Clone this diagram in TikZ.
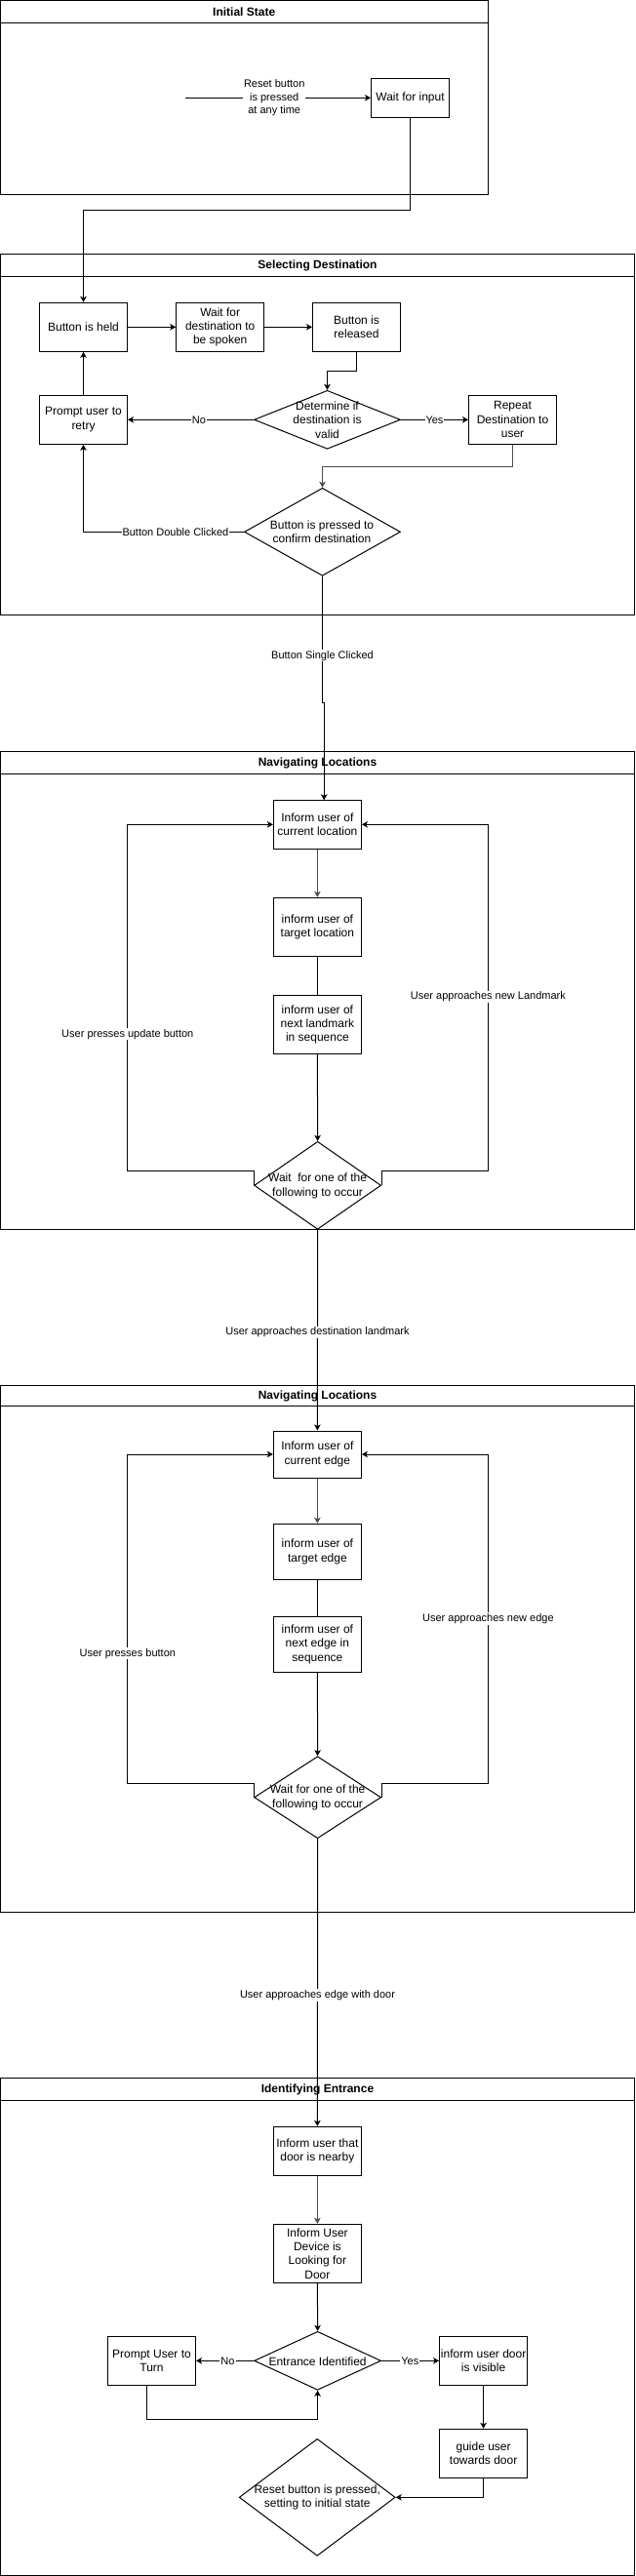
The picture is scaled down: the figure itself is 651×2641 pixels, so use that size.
\documentclass[tikz,border=0pt]{standalone}
\usepackage{fontspec}
\setmainfont{Liberation Sans}
\usetikzlibrary{arrows.meta,shapes.geometric}
\begin{document}
\begin{tikzpicture}[x=1pt,y=-1pt,line width=1pt,
  box/.style={draw,rectangle,minimum width=90pt,minimum height=50pt,align=center,inner sep=0pt,font=\fontsize{12pt}{14.4pt}\selectfont},
  dec/.style={draw,diamond,inner sep=0pt},
  dtext/.style={align=center,inner sep=0pt,font=\fontsize{12pt}{14.4pt}\selectfont},
  elab/.style={fill=white,align=center,inner sep=1pt,font=\fontsize{11pt}{13.2pt}\selectfont},
  pooltitle/.style={font=\bfseries\fontsize{12pt}{14.4pt}\selectfont,inner sep=0pt},
  arr/.style={-{Stealth[length=6pt,width=6.5pt,inset=1.5pt]}},
  soft/.style={draw=black!70}]
\useasboundingbox (0,0) rectangle (651,2641);
% ---------- pools ----------
\draw (0.5,0.5) rectangle (500.4,200);
\draw (0.5,23.3) -- (500.4,23.3);
\node[pooltitle] (t1) at (250.2,12) {Initial State};
\draw (0.5,260.3) rectangle (650.5,630.3);
\draw (0.5,283.3) -- (650.5,283.3);
\node[pooltitle] (t2) at (325.5,272) {Selecting Destination};
\draw (0.5,770.3) rectangle (650.5,1260.3);
\draw (0.5,793.3) -- (650.5,793.3);
\node[pooltitle] (t3) at (325.5,782) {Navigating Locations};
\draw (0.5,1420) rectangle (650.5,1960);
\draw (0.5,1441.7) -- (650.5,1441.7);
\node[pooltitle] (t4) at (325.5,1431) {Navigating Locations};
\draw (0.5,2130.3) rectangle (650.5,2640.5);
\draw (0.5,2153.3) -- (650.5,2153.3);
\node[pooltitle] (t5) at (325.5,2142) {Identifying Entrance};
% ---------- initial state ----------
\node[box,minimum width=80pt,minimum height=40pt] (wait) at (420.5,100.3) {Wait for input};
\coordinate (rs) at (190,100.3);
\draw[arr] (rs) -- node[elab,pos=0.48] (rsl) {Reset button\\is pressed\\at any time} (wait.west);
% ---------- selecting destination ----------
\node[box] (held) at (85.5,335.3) {Button is held};
\node[box] (waitdest) at (225.7,335.3) {Wait for\\destination to\\be spoken};
\node[box] (released) at (365.5,335.3) {Button is\\released};
\node[dec,minimum width=150pt,minimum height=60pt] (d1) at (335.5,430.3) {};
\node[dtext] (d1t) at (335.5,430.7) {Determine if\\destination is\\valid};
\node[box] (retry) at (85.5,430.3) {Prompt user to\\retry};
\node[box] (repeat) at (525.5,430.3) {Repeat\\Destination to\\user};
\node[dec,minimum width=160pt,minimum height=90pt] (d2) at (330.5,545.3) {};
\node[dtext] (d2t) at (330,545.5) {Button is pressed to\\confirm destination};
\draw[arr] (wait.south) -- ++(0,95) -| (held.north);
\draw[arr] (held.east) -- (waitdest.west);
\draw[arr] (waitdest.east) -- (released.west);
\draw[arr] (released.south) -- ++(0,20) -| (d1.north);
\draw[arr] (d1.west) -- node[elab,pos=0.435] (nol) {No} (retry.east);
\draw[arr] (d1.east) -- node[elab,pos=0.5] (yesl) {Yes} (repeat.west);
\draw[arr,soft] (repeat.south) -- ++(0,22.7) -| (d2.north);
\draw[arr] (d2.west) -| node[elab,pos=0.213] (dcl) {Button Double Clicked} (retry.south);
\draw[arr] (retry.north) -- (held.south);
% ---------- navigating locations ----------
\node[box] (cur1) at (325.4,845.3) {Inform user of\\current location};
\node[box,minimum height=60pt] (tgt1) at (325.4,950.3) {inform user of\\target location};
\node[box,minimum height=60pt] (next1) at (325.4,1050.3) {inform user of\\next landmark\\in sequence};
\node[dec,minimum width=130pt,minimum height=90pt] (w1) at (325.6,1215.3) {};
\node[dtext] (w1t) at (325.6,1215.7) {Wait\ \ for one of the\\following to occur};
\draw[arr] (d2.south) -- node[elab,pos=0.63] (scl) {Button Single Clicked} (330.5,720) -- (332.2,720) -- (332.2,820.3);
\draw[arr,soft] (cur1.south) -- (tgt1.north);
\draw (tgt1.south) -- (next1.north);
\draw[arr] (next1.south) -- (w1.north);
\draw[arr] (w1.west) -- ++(0,-15.3) -- (130.8,1200) -- node[elab,pos=0.394] (upl) {User presses update button} (130.8,845.3) -- (cur1.west);
\draw[arr] (w1.east) -- ++(0,-15.3) -- (500.4,1200) -- node[elab,pos=0.502] (nll) {User approaches new Landmark} (500.4,845.3) -- (cur1.east);
% ---------- navigating edges ----------
\node[box,minimum height=48pt] (cur2) at (325.4,1491) {Inform user of\\current edge};
\node[box,minimum height=57pt] (tgt2) at (325.4,1590.8) {inform user of\\target edge};
\node[box,minimum height=57pt] (next2) at (325.4,1685.8) {inform user of\\next edge in\\sequence};
\node[dec,minimum width=130pt,minimum height=84pt] (w2) at (325.6,1842.7) {};
\node[dtext] (w2t) at (325.6,1843) {Wait for one of the\\following to occur};
\draw[arr] (w1.south) -- node[elab,pos=0.51] (dll) {User approaches destination landmark} (cur2.north);
\draw[arr,soft] (cur2.south) -- (tgt2.north);
\draw (tgt2.south) -- (next2.north);
\draw[arr] (next2.south) -- (w2.north);
\draw[arr] (w2.west) -- ++(0,-14.7) -- (130.8,1828) -- node[elab,pos=0.394] (pbl) {User presses button} (130.8,1491) -- (cur2.west);
\draw[arr] (w2.east) -- ++(0,-14.7) -- (500.4,1828) -- node[elab,pos=0.5] (nel) {User approaches new edge} (500.4,1491) -- (cur2.east);
% ---------- identifying entrance ----------
\node[box] (door1) at (325.4,2205.3) {Inform user that\\door is nearby};
\node[box,minimum height=60pt] (dev) at (325.4,2310.3) {Inform User\\Device is\\Looking for\\Door};
\node[dec,minimum width=130pt,minimum height=60pt] (ent) at (325.6,2420.3) {};
\node[dtext] (entt) at (325.6,2420.7) {Entrance Identified};
\node[box] (turn) at (155.5,2420.3) {Prompt User to\\Turn};
\node[box] (vis) at (495.6,2420.3) {inform user door\\is visible};
\node[box] (guide) at (495.6,2515.3) {guide user\\towards door};
\node[dec,minimum width=160pt,minimum height=120pt] (reset) at (325.2,2560.3) {};
\node[dtext] (resett) at (325.2,2560.3) {Reset button is pressed,\\setting to initial state};
\draw[arr] (w2.south) -- node[elab,pos=0.544] (edl) {User approaches edge with door} (door1.north);
\draw[arr,soft] (door1.south) -- (dev.north);
\draw[arr] (dev.south) -- (ent.north);
\draw[arr] (ent.west) -- node[elab,pos=0.45] (no2) {No} (turn.east);
\draw[arr] (ent.east) -- node[elab,pos=0.495] (yes2) {Yes} (vis.west);
\draw[arr] ([xshift=-5.2pt]turn.south) -- ++(0,34.7) -| (ent.south);
\draw[arr] (vis.south) -- (guide.north);
\draw[arr] (guide.south) |- (reset.east);
\end{tikzpicture}
\end{document}
